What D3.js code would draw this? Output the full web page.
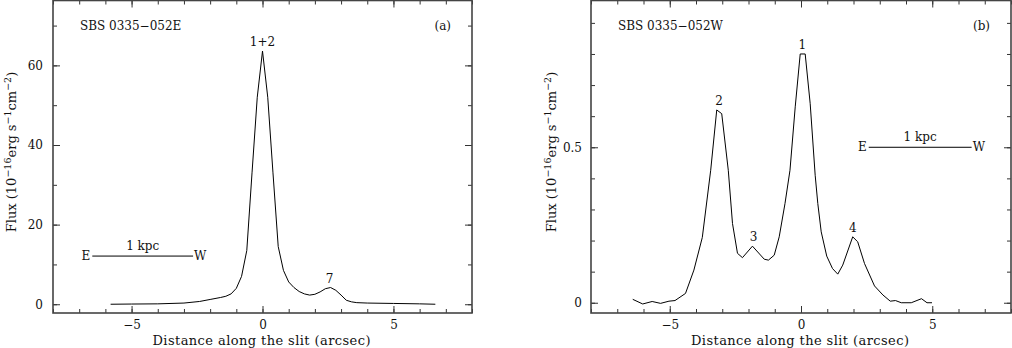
<!DOCTYPE html>
<html>
<head>
<meta charset="utf-8">
<script src="https://cdn.jsdelivr.net/npm/d3@7"></script>
<style>
  body { margin: 0; background: #fff; }
  text { font-family: "DejaVu Serif", serif; font-size: 12px; fill: #111; }
  .title { font-size: 13px; }
</style>
</head>
<body>
<div id="chart"></div>
<script>
// profile along the slit, panel (a): SBS 0335-052E
var distE = [-5.8, -5, -4, -3, -2.4, -2.0, -1.6, -1.4, -1.2, -1.0, -0.8, -0.6, -0.4, -0.2, 0,
             0.2, 0.4, 0.6, 0.8, 1.0, 1.2, 1.4, 1.6, 1.8, 2.0, 2.2, 2.4, 2.6, 2.8, 3.0, 3.2,
             3.4, 3.6, 4.0, 5.0, 6.0, 6.6];
var fluxE = [0, 0.05, 0.1, 0.3, 0.7, 1.2, 1.7, 2.0, 2.6, 4.0, 7.0, 13.5, 33, 52, 63.6,
             52, 33, 14.5, 8.5, 5.6, 4.2, 3.2, 2.6, 2.3, 2.5, 3.1, 3.9, 4.2, 3.5, 2.3, 1.0,
             0.6, 0.4, 0.3, 0.2, 0.1, 0];

// panel (b): SBS 0335-052W
var distW = [-6.41, -6.03, -5.67, -5.35, -5.03, -4.8, -4.4, -4.08, -3.76, -3.44, -3.21, -3.02,
             -2.77, -2.61, -2.42, -2.23, -1.85, -1.40, -1.24, -1.02, -0.83, -0.61, -0.42, -0.22,
             -0.03, 0.16, 0.35, 0.54, 0.64, 0.77, 0.98, 1.2, 1.40, 1.59, 1.97, 2.16, 2.42, 2.80,
             3.12, 3.40, 3.60, 3.82, 4.20, 4.59, 4.80, 4.99];
var fluxW = [0.011, -0.004, 0.004, -0.002, 0.005, 0.007, 0.03, 0.105, 0.21, 0.426, 0.62, 0.608,
             0.426, 0.255, 0.159, 0.145, 0.182, 0.14, 0.137, 0.153, 0.212, 0.319, 0.426, 0.63,
             0.8, 0.8, 0.64, 0.41, 0.319, 0.228, 0.15, 0.11, 0.092, 0.121, 0.212, 0.196, 0.126, 0.054,
             0.025, 0.005, 0.007, 0, 0, 0.013, 0, 0];

// peak labels
var peakNamesE = ["1+2", "7"];
var peakDistE = [0, 2.56];
var peakFluxE = [63.6, 4.2];
var peakNamesW = ["2", "1", "3", "4"];
var peakDistW = [-3.12, 0.05, -1.81, 1.97];
var peakFluxW = [0.62, 0.8, 0.182, 0.212];

// ticks
var xTicks = [-5, 0, 5];
var xMinor = d3.range(-8, 9, 1);
var yTicksE = [0, 20, 40, 60];
var yMinorE = d3.range(0, 80, 10);
var yTicksW = [0, 0.5];
var yMinorW = d3.range(0, 10).map(function(i) { return i / 10; });

// 1 kpc scale bars (arcsec, flux)
var barE = [-6.5, -2.65, 12.1];
var barW = [2.58, 6.5, 0.5];

var svg = d3.select("#chart")
    .append("svg")
    .attr("width", 1012)
    .attr("height", 348);

function drawPanel(opt) {
  var x = d3.scaleLinear().domain([-8, 8]).range([opt.left, opt.right]);
  var y = d3.scaleLinear().domain(opt.yDomain).range([opt.bottom, opt.top]);
  var g = svg.append("g");

  // ticks, all pointing inwards
  function ax(axis, tr, vals, size, fmt, pad) {
    var a = axis.tickValues(vals).tickSizeInner(-size).tickSizeOuter(0)
        .tickPadding(pad || 0).tickFormat(fmt || "");
    var s = g.append("g").attr("transform", tr).call(a);
    s.select(".domain").remove();
    s.selectAll("line").attr("stroke", "#333").attr("stroke-width", 1);
    s.selectAll("text").attr("font-family", null).attr("font-size", null);
    return s;
  }
  ax(d3.axisBottom(x), "translate(0," + opt.bottom + ")", xMinor, 4);
  ax(d3.axisBottom(x), "translate(0," + opt.bottom + ")", xTicks, 7, d3.format("d"), 7);
  ax(d3.axisTop(x), "translate(0," + opt.top + ")", xMinor, 4);
  ax(d3.axisTop(x), "translate(0," + opt.top + ")", xTicks, 7);
  ax(d3.axisLeft(y), "translate(" + opt.left + ",0)", opt.yMinor, 4);
  ax(d3.axisLeft(y), "translate(" + opt.left + ",0)", opt.yTicks, 7, opt.yFmt, opt.yPad);
  ax(d3.axisRight(y), "translate(" + opt.right + ",0)", opt.yMinor, 4);
  ax(d3.axisRight(y), "translate(" + opt.right + ",0)", opt.yTicks, 7);

  // frame
  g.append("rect")
      .attr("x", opt.left).attr("y", opt.top)
      .attr("width", opt.right - opt.left).attr("height", opt.bottom - opt.top)
      .attr("fill", "none").attr("stroke", "#444").attr("stroke-width", 1.6);

  // profile
  var line = d3.line()
      .x(function(d, i) { return x(opt.dist[i]); })
      .y(function(d) { return y(d); });
  g.append("path")
      .datum(opt.flux)
      .attr("d", line)
      .attr("fill", "none")
      .attr("stroke", "#000")
      .attr("stroke-width", 1);

  // peak numbers
  g.selectAll(".peak")
      .data(opt.peakNames)
      .enter().append("text")
      .attr("x", function(d, i) { return x(opt.peakDist[i]); })
      .attr("y", function(d, i) { return y(opt.peakFlux[i]) - 5; })
      .attr("text-anchor", "middle")
      .text(function(d) { return d; });

  // object name and panel letter
  g.append("text").attr("x", opt.left + 27).attr("y", 30).text(opt.name);
  g.append("text").attr("x", opt.right - 21).attr("y", 30)
      .attr("text-anchor", "end").text(opt.letter);

  // 1 kpc bar
  var b = opt.bar;
  g.append("line")
      .attr("x1", x(b[0])).attr("x2", x(b[1]))
      .attr("y1", y(b[2])).attr("y2", y(b[2]))
      .attr("stroke", "#000").attr("stroke-width", 1);
  g.append("text").attr("x", x(b[0]) - 2).attr("y", y(b[2]) + 4)
      .attr("text-anchor", "end").text("E");
  g.append("text").attr("x", x(b[1]) + 1).attr("y", y(b[2]) + 4).text("W");
  g.append("text").attr("x", (x(b[0]) + x(b[1])) / 2).attr("y", y(b[2]) - 6)
      .attr("text-anchor", "middle").text("1 kpc");

  // axis titles
  g.append("text")
      .attr("class", "title")
      .attr("x", (opt.left + opt.right) / 2 - 1)
      .attr("y", 345)
      .attr("text-anchor", "middle")
      .attr("textLength", 218)
      .attr("lengthAdjust", "spacing")
      .text("Distance along the slit (arcsec)");

  var yl = g.append("text")
      .attr("class", "title")
      .attr("transform", "translate(" + opt.ylabelX + ",152) rotate(-90)")
      .attr("text-anchor", "middle");
  yl.append("tspan").text("Flux (10");
  yl.append("tspan").attr("dy", -5).attr("font-size", "9.5px").text("\u221216");
  yl.append("tspan").attr("dy", 5).text("erg s");
  yl.append("tspan").attr("dy", -5).attr("font-size", "9.5px").text("\u22121");
  yl.append("tspan").attr("dy", 5).text("cm");
  yl.append("tspan").attr("dy", -5).attr("font-size", "9.5px").text("\u22122");
  yl.append("tspan").attr("dy", 5).text(")");
}

drawPanel({
  left: 53, right: 472, top: 0.5, bottom: 313,
  yDomain: [-2.2, 76.3], yTicks: yTicksE, yMinor: yMinorE, yFmt: d3.format("d"), yPad: 10,
  dist: distE, flux: fluxE,
  peakNames: peakNamesE, peakDist: peakDistE, peakFlux: peakFluxE,
  name: "SBS 0335\u2212052E", letter: "(a)", bar: barE, ylabelX: 16
});

drawPanel({
  left: 591, right: 1011, top: 0.5, bottom: 313,
  yDomain: [-0.033, 0.972], yTicks: yTicksW, yMinor: yMinorW,
  yFmt: function(d) { return d === 0 ? "0" : d3.format(".1f")(d); }, yPad: 9,
  dist: distW, flux: fluxW,
  peakNames: peakNamesW, peakDist: peakDistW, peakFlux: peakFluxW,
  name: "SBS 0335\u2212052W", letter: "(b)", bar: barW, ylabelX: 556
});
</script>
</body>
</html>
